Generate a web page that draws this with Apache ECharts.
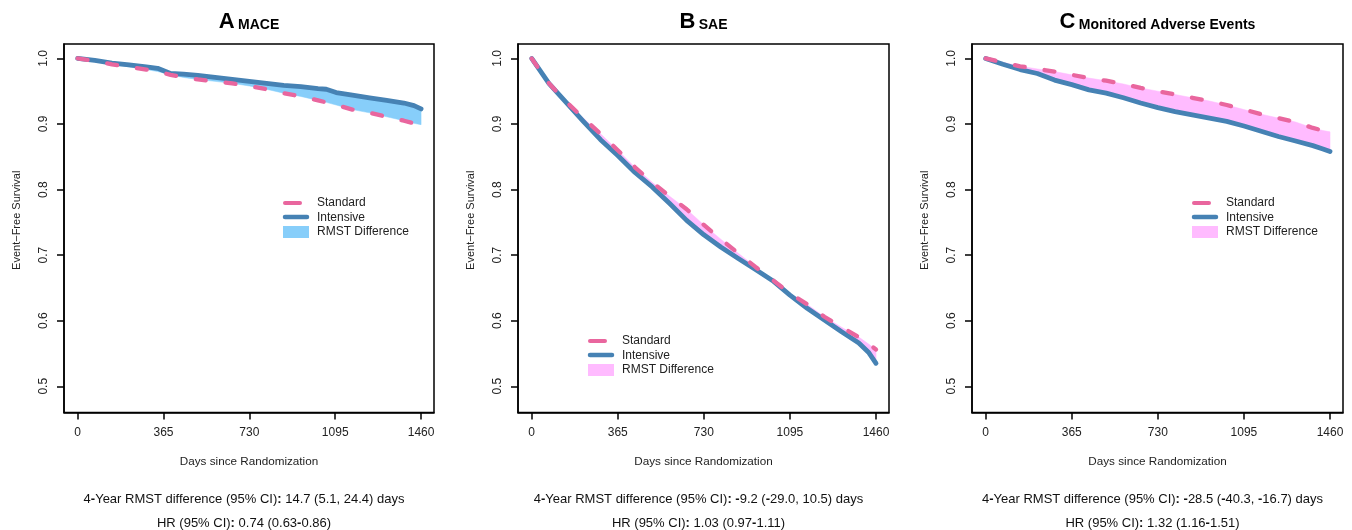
<!DOCTYPE html>
<html>
<head>
<meta charset="utf-8">
<script src="https://cdn.jsdelivr.net/npm/echarts@6/dist/echarts.min.js"></script>
<style>
html,body{margin:0;padding:0;background:#fff;}
#c{width:1352px;height:530px;}
</style>
</head>
<body>
<div id="c"></div>
<script>
// ---------- DATA ----------
const xTicks = [0, 365, 730, 1095, 1460];
const yTicks = [0.5, 0.6, 0.7, 0.8, 0.9, 1.0];

const panelTitlesLetter = ['A', 'B', 'C'];
const panelTitlesName = ['MACE', 'SAE', 'Monitored Adverse Events'];
const seriesNames = ['Standard', 'Intensive', 'RMST Difference'];

const rmstLines = [
  '4-Year RMST difference (95% CI): 14.7 (5.1, 24.4) days',
  '4-Year RMST difference (95% CI): -9.2 (-29.0, 10.5) days',
  '4-Year RMST difference (95% CI): -28.5 (-40.3, -16.7) days'
];
const hrLines = [
  'HR (95% CI): 0.74 (0.63-0.86)',
  'HR (95% CI): 1.03 (0.97-1.11)',
  'HR (95% CI): 1.32 (1.16-1.51)'
];

// Panel A: MACE
const daysA = [0, 73, 146, 219, 292, 340, 395, 450, 511, 584, 657, 730, 803, 876, 949, 1022, 1057, 1099, 1168, 1241, 1314, 1387, 1430, 1460];
const stdA  = [1.0, 0.996, 0.991, 0.987, 0.983, 0.980, 0.975, 0.971, 0.968, 0.965, 0.962, 0.958, 0.953, 0.947, 0.942, 0.936, 0.933, 0.929, 0.922, 0.917, 0.911, 0.905, 0.901, 0.899];
const intA  = [1.0, 0.997, 0.993, 0.990, 0.987, 0.985, 0.977, 0.976, 0.974, 0.971, 0.968, 0.965, 0.962, 0.959, 0.957, 0.954, 0.953, 0.948, 0.944, 0.940, 0.936, 0.932, 0.928, 0.923];

// Panel B: SAE
const daysB = [0, 73, 146, 219, 292, 365, 438, 511, 584, 657, 730, 803, 876, 949, 1022, 1095, 1168, 1241, 1314, 1387, 1430, 1460];
const stdB  = [1.0, 0.962, 0.934, 0.909, 0.885, 0.860, 0.834, 0.811, 0.790, 0.770, 0.746, 0.724, 0.703, 0.682, 0.662, 0.642, 0.625, 0.606, 0.590, 0.575, 0.564, 0.556];
const intB  = [1.0, 0.962, 0.933, 0.904, 0.876, 0.852, 0.826, 0.804, 0.779, 0.753, 0.731, 0.712, 0.695, 0.678, 0.661, 0.639, 0.619, 0.601, 0.583, 0.566, 0.551, 0.535];

// Panel C: Monitored Adverse Events
const daysC = [0, 73, 146, 219, 292, 365, 438, 511, 584, 657, 730, 803, 876, 949, 1022, 1095, 1168, 1241, 1314, 1387, 1430, 1460];
const stdC  = [1.0, 0.994, 0.988, 0.984, 0.980, 0.975, 0.970, 0.966, 0.961, 0.955, 0.950, 0.945, 0.940, 0.935, 0.929, 0.922, 0.915, 0.909, 0.903, 0.894, 0.890, 0.888];
const intC  = [1.0, 0.991, 0.983, 0.977, 0.967, 0.960, 0.952, 0.947, 0.940, 0.932, 0.925, 0.919, 0.914, 0.909, 0.904, 0.897, 0.889, 0.881, 0.874, 0.867, 0.862, 0.858];

// ---------- STYLE / LAYOUT ----------
const FONT = '"Liberation Sans", Arial, Helvetica, sans-serif';
const PINK = '#E9669E';
const BLUE = '#4682B4';
const fills = ['#87CEFA', '#FFBBFF', '#FFBBFF'];

const boxes = [
  {left: 64,  right: 434},
  {left: 518, right: 889},
  {left: 972, right: 1343}
];
const boxTop = 44, boxBottom = 412.5;

const legendPos = [
  {x: 283, y: 203},
  {x: 588, y: 341},
  {x: 1192, y: 203}
];

const panels = [
  {days: daysA, std: stdA, int: intA},
  {days: daysB, std: stdB, int: intB},
  {days: daysC, std: stdC, int: intC}
];

const W = 1352, H = 530;

const grids = [], xAxes = [], yAxes = [], series = [], graphics = [];

function boldify(s) {
  return s.replace(/([-:])/g, '{b|$1}');
}

panels.forEach((p, i) => {
  const b = boxes[i];
  grids.push({
    left: b.left, right: W - b.right, top: boxTop, bottom: H - boxBottom,
    show: true, borderColor: '#000', borderWidth: 1.5, backgroundColor: 'transparent'
  });
  xAxes.push({
    gridIndex: i, type: 'value', min: -58, max: 1515,
    axisLine: {show: true, onZero: false, lineStyle: {color: '#000', width: 1.5}},
    splitLine: {show: false},
    axisTick: {show: true, customValues: xTicks, length: 7, lineStyle: {color: '#000', width: 1.5}},
    axisLabel: {customValues: xTicks, margin: 14, fontSize: 12, color: '#222', fontFamily: FONT,
      formatter: v => String(Math.round(v))},
    name: 'Days since Randomization', nameLocation: 'middle', nameGap: 43,
    nameTextStyle: {fontSize: 11.7, color: '#222', fontFamily: FONT}
  });
  yAxes.push({
    gridIndex: i, type: 'value', min: 0.46, max: 1.022,
    axisLine: {show: true, onZero: false, lineStyle: {color: '#000', width: 1.5}},
    splitLine: {show: false},
    axisTick: {show: true, customValues: yTicks, length: 7, lineStyle: {color: '#000', width: 1.5}},
    axisLabel: {customValues: yTicks, rotate: 90, margin: 14, fontSize: 12, color: '#222', fontFamily: FONT,
      formatter: v => Number(v).toFixed(1)},
    name: 'Event\u2212Free Survival', nameLocation: 'middle', nameGap: 42, nameRotate: 90,
    nameTextStyle: {fontSize: 11, color: '#222', fontFamily: FONT, padding: [0, 0, 0, 16]}
  });

  const days = p.days, std = p.std, itv = p.int, fillColor = fills[i];
  series.push({
    name: seriesNames[2], type: 'custom', xAxisIndex: i, yAxisIndex: i, silent: true, z: 1,
    data: days.map((d, k) => [d, std[k], itv[k]]),
    encode: {x: 0, y: [1, 2]},
    renderItem: function (params, api) {
      if (params.dataIndex !== 0) return null;
      const pts = [];
      for (let k = 0; k < days.length; k++) pts.push(api.coord([days[k], std[k]]));
      for (let k = days.length - 1; k >= 0; k--) pts.push(api.coord([days[k], itv[k]]));
      return {type: 'polygon', shape: {points: pts}, style: {fill: fillColor, stroke: fillColor, lineWidth: 0.5}};
    }
  });
  series.push({
    name: seriesNames[1], type: 'line', xAxisIndex: i, yAxisIndex: i, z: 2,
    data: days.map((d, k) => [d, itv[k]]),
    symbol: 'none', silent: true,
    lineStyle: {color: BLUE, width: 4.8, cap: 'round', join: 'round'}
  });
  series.push({
    name: seriesNames[0], type: 'line', xAxisIndex: i, yAxisIndex: i, z: 3,
    data: days.map((d, k) => [d, std[k]]),
    symbol: 'none', silent: true,
    lineStyle: {color: PINK, width: 4.3, type: [10, 20], cap: 'round', join: 'round'}
  });

  const cx = (b.left + b.right) / 2;
  graphics.push({
    type: 'text', x: cx, y: 22, silent: true,
    style: {
      text: '{l|' + panelTitlesLetter[i] + '} {n|' + panelTitlesName[i] + '}',
      align: 'center', verticalAlign: 'middle',
      rich: {
        l: {fontSize: 22, fontWeight: 'bold', fontFamily: FONT, fill: '#000', verticalAlign: 'bottom'},
        n: {fontSize: 14, fontWeight: 'bold', fontFamily: FONT, fill: '#000', verticalAlign: 'bottom', padding: [0, 0, 1, 0]}
      }
    }
  });

  const rich = {
    b: {fontSize: 13, fontWeight: 'bold', fontFamily: FONT, fill: '#111'}
  };
  graphics.push({
    type: 'text', x: cx - 5, y: 499, silent: true,
    style: {text: boldify(rmstLines[i]), align: 'center', verticalAlign: 'middle',
      fontSize: 13, fontFamily: FONT, fill: '#111', rich: rich}
  });
  graphics.push({
    type: 'text', x: cx - 5, y: 523, silent: true,
    style: {text: boldify(hrLines[i]), align: 'center', verticalAlign: 'middle',
      fontSize: 13, fontFamily: FONT, fill: '#111', rich: rich}
  });

  const L = legendPos[i];
  const tx = L.x + 34;
  graphics.push({type: 'line', silent: true, shape: {x1: L.x + 2, y1: L.y, x2: L.x + 17, y2: L.y},
    style: {stroke: PINK, lineWidth: 4, lineCap: 'round'}});
  graphics.push({type: 'line', silent: true, shape: {x1: L.x + 2, y1: L.y + 14, x2: L.x + 24, y2: L.y + 14},
    style: {stroke: BLUE, lineWidth: 4.5, lineCap: 'round'}});
  graphics.push({type: 'rect', silent: true, shape: {x: L.x, y: L.y + 23, width: 26, height: 12},
    style: {fill: fillColor}});
  seriesNames.forEach((nm, k) => {
    graphics.push({type: 'text', silent: true, x: tx, y: L.y + k * 14.5,
      style: {text: nm, fontSize: 12, fontFamily: FONT, fill: '#222', align: 'left', verticalAlign: 'middle'}});
  });
});

const chart = echarts.init(document.getElementById('c'), null, {renderer: 'canvas'});
chart.setOption({
  animation: false,
  backgroundColor: '#fff',
  grid: grids,
  xAxis: xAxes,
  yAxis: yAxes,
  series: series,
  graphic: graphics
});
</script>
</body>
</html>
